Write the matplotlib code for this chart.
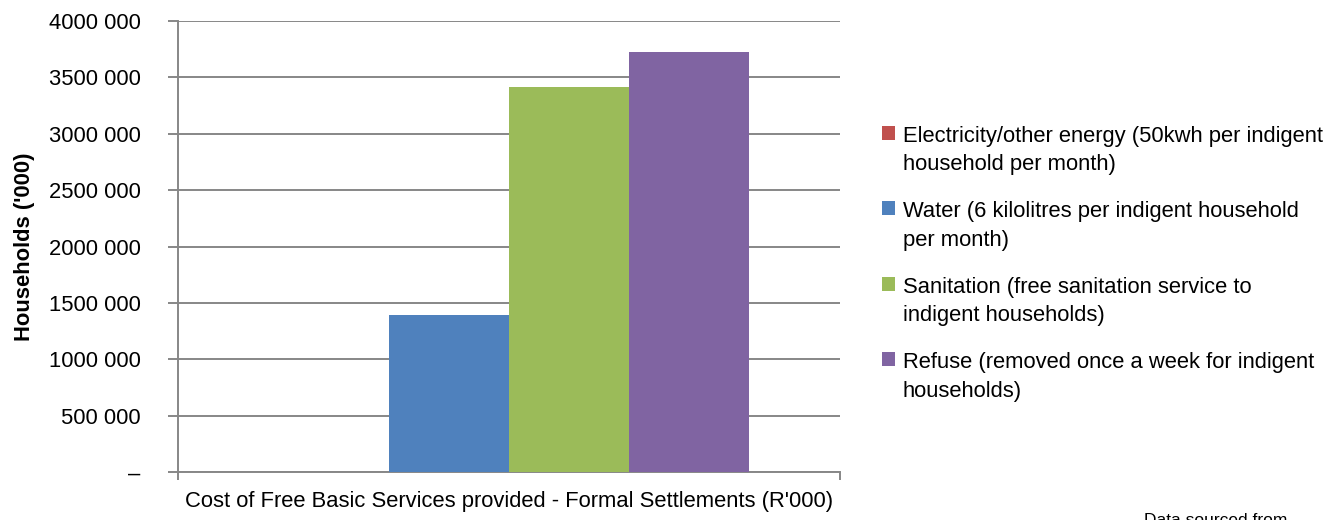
import matplotlib
matplotlib.use("Agg")
import matplotlib.pyplot as plt
from matplotlib.ticker import FuncFormatter

plt.rcParams['font.family'] = ['Liberation Sans', 'DejaVu Sans']

category = "Cost of Free Basic Services provided - Formal Settlements (R'000)"
series = ["Electricity/other energy (50kwh per indigent\nhousehold per month)",
          "Water (6 kilolitres per indigent household\nper month)",
          "Sanitation (free sanitation service to\nindigent households)",
          "Refuse (removed once a week for indigent\nhouseholds)"]
values = [0, 1392000, 3414000, 3725000]
colors = ['#C0504D', '#4F81BD', '#9BBB59', '#8064A2']

fs = 15.8
fig = plt.figure(figsize=(13.38, 5.20), dpi=100)
ax = fig.add_axes([0.133, 0.0923, 0.495, 0.8673])

w = 0.1813
for i, (lab, v, c) in enumerate(zip(series, values, colors)):
    ax.bar((i - 1.5) * w, v, width=w, color=c, label=lab, zorder=3)

ax.set_xlim(-0.5, 0.5)
ax.set_ylim(0, 4000000)
ax.set_yticks(range(0, 4000001, 500000))
ax.yaxis.set_major_formatter(FuncFormatter(lambda v, p: '–' if v == 0 else f"{int(v // 1000)} 000"))
ax.grid(axis='y', color='#878787', linewidth=1.4, zorder=0)

ax.set_xticks([-0.5, 0.5])
ax.set_xticklabels([])
ax.set_xticks([0], minor=True)
ax.set_xticklabels([category], minor=True, fontsize=fs)
ax.tick_params(axis='x', which='minor', length=0, pad=14)
ax.tick_params(axis='x', which='major', length=6, color='#878787', width=1.4)
ax.tick_params(axis='y', length=7, color='#878787', width=1.4, labelsize=fs, pad=20)

for s in ['top', 'right']:
    ax.spines[s].set_visible(False)
for s in ['left', 'bottom']:
    ax.spines[s].set_color('#878787')
    ax.spines[s].set_linewidth(1.4)

ax.set_ylabel("Households ('000)", fontsize=fs, fontweight='bold')
ax.yaxis.set_label_coords(-0.216, 0.5)

leg = ax.legend(loc='upper left', bbox_to_anchor=(0.659, 0.758), bbox_transform=fig.transFigure,
                frameon=False, fontsize=fs, handlelength=0.6, handleheight=0.6,
                handletextpad=0.35, labelspacing=1.2, borderpad=0, borderaxespad=0)
for t in leg.get_texts():
    t.set_linespacing(1.45)
# square next to the first line of each entry, as in the original
for col in leg._legend_handle_box.get_children():
    for item in col.get_children():
        item.align = 'top'

fig.text(0.855, 0.013, "Data sourced from", fontsize=12.5, va='top')

fig.savefig("out.png", dpi=100)
